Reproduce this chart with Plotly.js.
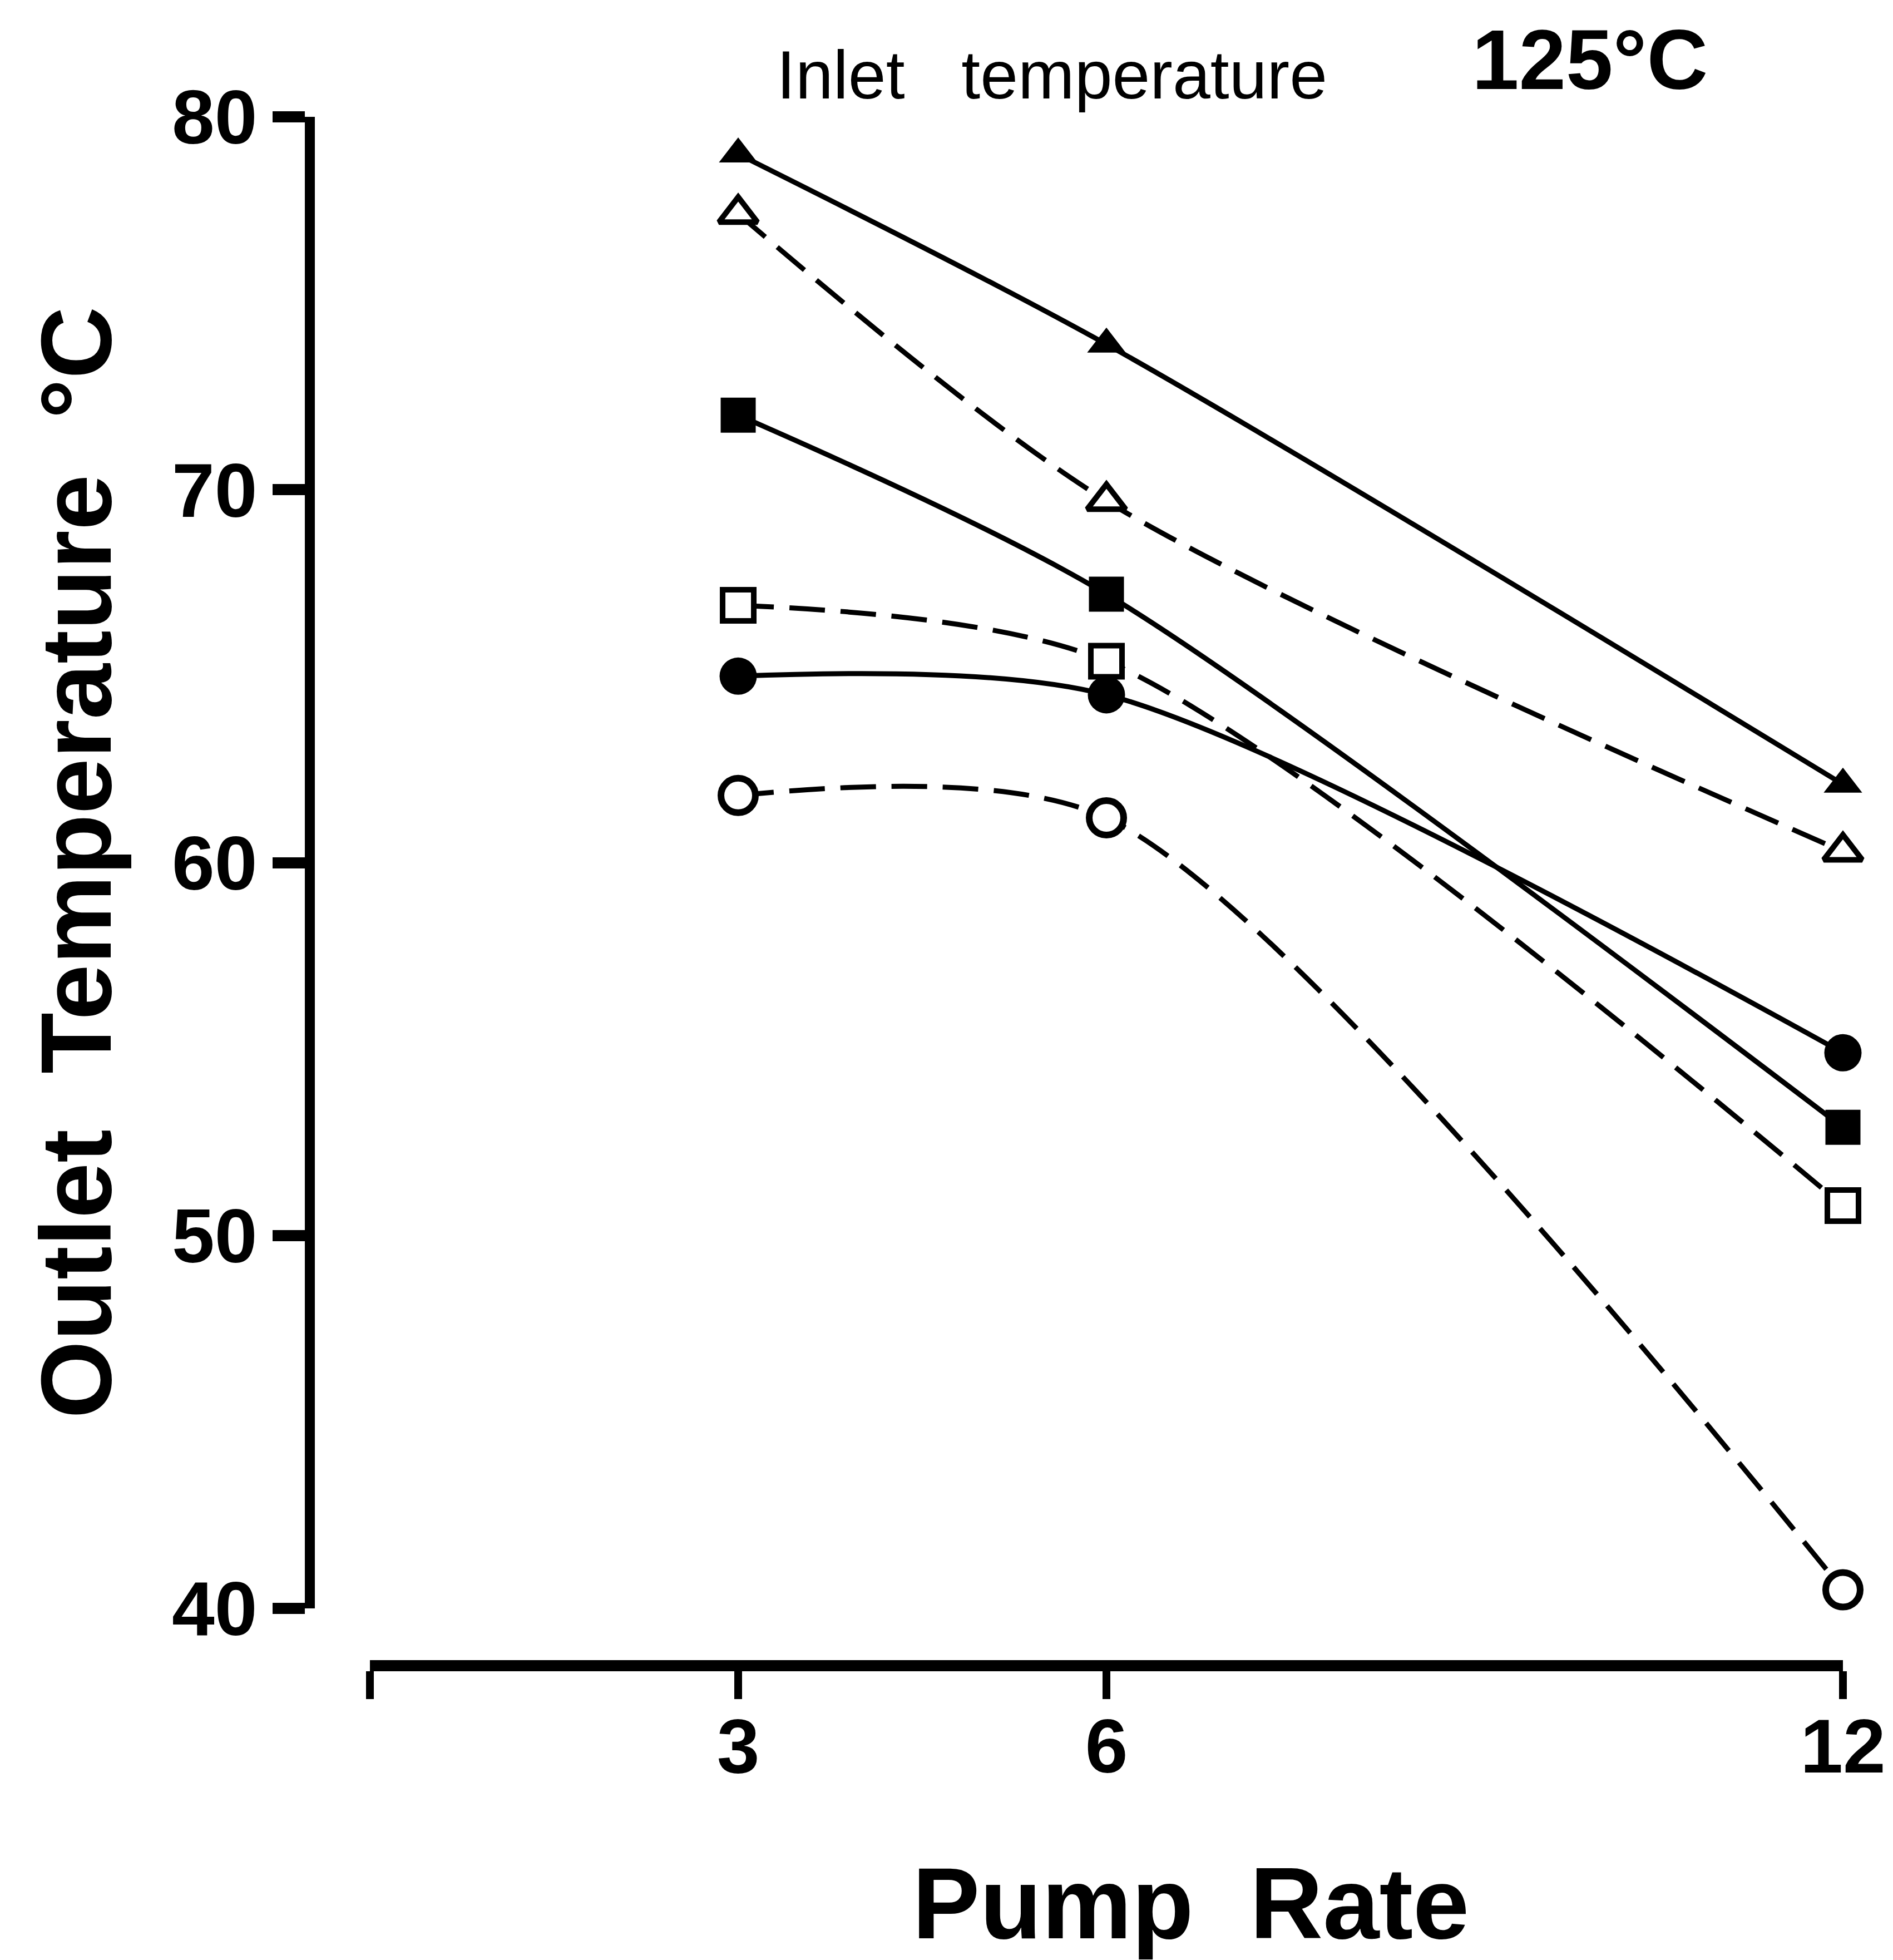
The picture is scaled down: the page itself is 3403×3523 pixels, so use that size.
<!DOCTYPE html>
<html>
<head>
<meta charset="utf-8">
<script src="https://cdn.plot.ly/plotly-3.0.1.min.js"></script>
<style>html,body{margin:0;padding:0;background:#fff;}#chart{width:3403px;height:3523px;}</style>
</head>
<body>
<div id="chart"></div>
<script>
// Data
const pumpRate = [3, 6, 12];
const filledTriangle = [79.0, 73.9, 62.1];
const openTriangle = [77.4, 69.7, 60.3];
const filledSquare = [72.0, 67.2, 52.9];
const openSquare = [66.9, 65.4, 50.8];
const filledCircle = [65.0, 64.5, 54.9];
const openCircle = [61.8, 61.2, 40.5];

const xTickVals = [0, 3, 6, 12];
const xTickText = ['', '3', '6', '12'];
const yTickVals = [40, 50, 60, 70, 80];
const yTickText = ['40', '50', '60', '70', '80'];

const NB = '\u00A0';
const xTitle = '\u200B' + NB.repeat(6) + 'Pump' + NB + NB + 'Rate';
const yTitle = 'Outlet' + NB + NB + 'Temperature' + NB + NB + '°C';
const noteLeft = 'Inlet' + NB + NB + NB + 'temperature';
const noteRight = '125°C';

const DASH = '64px,28px';
function series(y, symbol, open, dashed) {
  let size = 64, lw = 0;
  if (symbol === 'triangle-up') { size = 60; lw = open ? 10 : 0; }
  else if (symbol === 'square') { size = open ? 56 : 63; lw = open ? 10 : 0; }
  else { size = open ? 62 : 67; lw = open ? 12 : 0; }
  return {
    x: pumpRate, y: y, type: 'scatter', mode: 'lines+markers',
    cliponaxis: false,
    line: {color: 'black', width: 9, shape: 'spline', smoothing: 0.8, dash: dashed ? DASH : 'solid'},
    marker: {symbol: symbol, size: size, color: open ? 'white' : 'black', line: {color: 'black', width: lw}},
    showlegend: false, hoverinfo: 'skip'
  };
}

const traces = [
  series(openCircle, 'circle', true, true),
  series(filledCircle, 'circle', false, false),
  series(openSquare, 'square', true, true),
  series(filledSquare, 'square', false, false),
  series(openTriangle, 'triangle-up', true, true),
  series(filledTriangle, 'triangle-up', false, false)
];

const tickFont = {family: 'Liberation Sans, Arial, sans-serif', size: 138, color: 'black', weight: 'bold'};

const layout = {
  width: 3403, height: 3523,
  paper_bgcolor: 'white', plot_bgcolor: 'white',
  margin: {l: 557, r: 90, t: 210, b: 529},
  showlegend: false,
  xaxis: {
    range: [0, 12], domain: [0.0392, 1], anchor: 'free', position: 0,
    tickmode: 'array', tickvals: xTickVals, ticktext: xTickText,
    showgrid: false, zeroline: false, showline: true, linecolor: 'black', linewidth: 20,
    ticks: 'outside', ticklen: 50, tickwidth: 14, tickcolor: 'black',
    ticklabelstandoff: -34,
    tickfont: tickFont,
    automargin: true,
    title: {text: xTitle, standoff: 150,
      font: {family: 'Liberation Sans, Arial, sans-serif', size: 182, color: 'black', weight: 'bold'}}
  },
  yaxis: {
    range: [40, 80], domain: [0.037, 1], anchor: 'free', position: 0,
    tickmode: 'array', tickvals: yTickVals, ticktext: yTickText,
    showgrid: false, zeroline: false, showline: true, linecolor: 'black', linewidth: 18,
    ticks: 'outside', ticklen: 58, tickwidth: 20, tickcolor: 'black',
    tickfont: tickFont,
    automargin: true,
    title: {text: yTitle, standoff: 47,
      font: {family: 'Liberation Sans, Arial, sans-serif', size: 180, color: 'black', weight: 'bold'}}
  },
  annotations: [
    {text: noteLeft, xref: 'paper', yref: 'paper', x: 0.484, y: 1.027, xanchor: 'center', yanchor: 'middle',
     showarrow: false, font: {family: 'Liberation Sans, Arial, sans-serif', size: 122, color: 'black'}},
    {text: noteRight, xref: 'paper', yref: 'paper', x: 0.835, y: 1.037, xanchor: 'center', yanchor: 'middle',
     showarrow: false, font: {family: 'Liberation Sans, Arial, sans-serif', size: 152, color: 'black', weight: 'bold'}}
  ]
};

Plotly.newPlot('chart', traces, layout, {staticPlot: true, displayModeBar: false});
</script>
</body>
</html>
